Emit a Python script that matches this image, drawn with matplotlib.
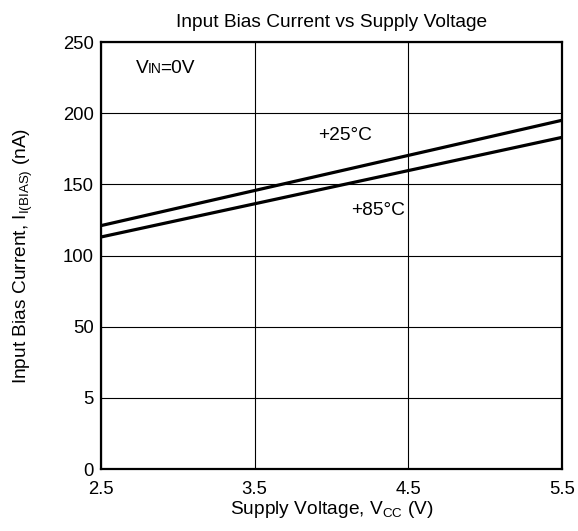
import matplotlib
matplotlib.use("Agg")
import matplotlib.pyplot as plt
import numpy as np
from matplotlib.offsetbox import TextArea, HPacker, AnnotationBbox

plt.rcParams['font.family'] = ['Liberation Sans', 'DejaVu Sans']
plt.rcParams['mathtext.fontset'] = 'custom'
plt.rcParams['mathtext.rm'] = 'Liberation Sans'
plt.rcParams['mathtext.it'] = 'Liberation Sans'

# data
voltage = [2.5, 5.5]
bias_25c = [121, 195]
bias_85c = [113, 183]
x_ticks = [2.5, 3.5, 4.5, 5.5]
y_ticks = [0, 5, 50, 100, 150, 200, 250]

# y axis has evenly spaced, non-linear tick values
idx = np.arange(len(y_ticks), dtype=float)
def fwd(y):
    return np.interp(y, y_ticks, idx)
def inv(i):
    return np.interp(i, idx, y_ticks)

fs = 13.8
tfs = 13.3
fig = plt.figure(figsize=(5.78, 5.31), dpi=100)
ax = fig.add_axes([101/578, 1-469/531, 461/578, 427/531])
ax.set_yscale('function', functions=(fwd, inv))

ax.plot(voltage, bias_25c, color='black', lw=2.3, solid_capstyle='butt')
ax.plot(voltage, bias_85c, color='black', lw=2.3, solid_capstyle='butt')

ax.set_xlim(2.5, 5.5)
ax.set_ylim(0, 250)
ax.set_xticks(x_ticks)
ax.set_xticklabels([str(v) for v in x_ticks])
ax.set_yticks(y_ticks)
ax.set_yticklabels([str(v) for v in y_ticks])
ax.minorticks_off()
ax.grid(True, color='black', lw=0.8)
for s in ax.spines.values():
    s.set_linewidth(1.6)
ax.tick_params(axis='y', length=0, labelsize=tfs, pad=5)
ax.tick_params(axis='x', length=0, labelsize=tfs, pad=9)

ax.set_title('Input Bias Current vs Supply Voltage', fontsize=fs, pad=11)
ax.set_xlabel(r'Supply Voltage, V$_{\mathrm{CC}}$ (V)', fontsize=fs, labelpad=0)
ax.set_ylabel(r'Input Bias Current, I$_{\mathrm{I(BIAS)}}$ (nA)', fontsize=fs, labelpad=20)

ax.text(4.09, 184.5, '+25°C', fontsize=fs, ha='center', va='center')
ax.text(4.30, 131.7, '+85°C', fontsize=fs, ha='center', va='center')

vin = HPacker(children=[TextArea('V', textprops=dict(fontsize=fs)),
                        TextArea('IN', textprops=dict(fontsize=10)),
                        TextArea('=0V', textprops=dict(fontsize=fs))],
              align='baseline', pad=0, sep=-1)
ab = AnnotationBbox(vin, (2.73, 231.7), frameon=False, box_alignment=(0, 0.5), pad=0)
ax.add_artist(ab)

fig.savefig('out.png', dpi=100)
